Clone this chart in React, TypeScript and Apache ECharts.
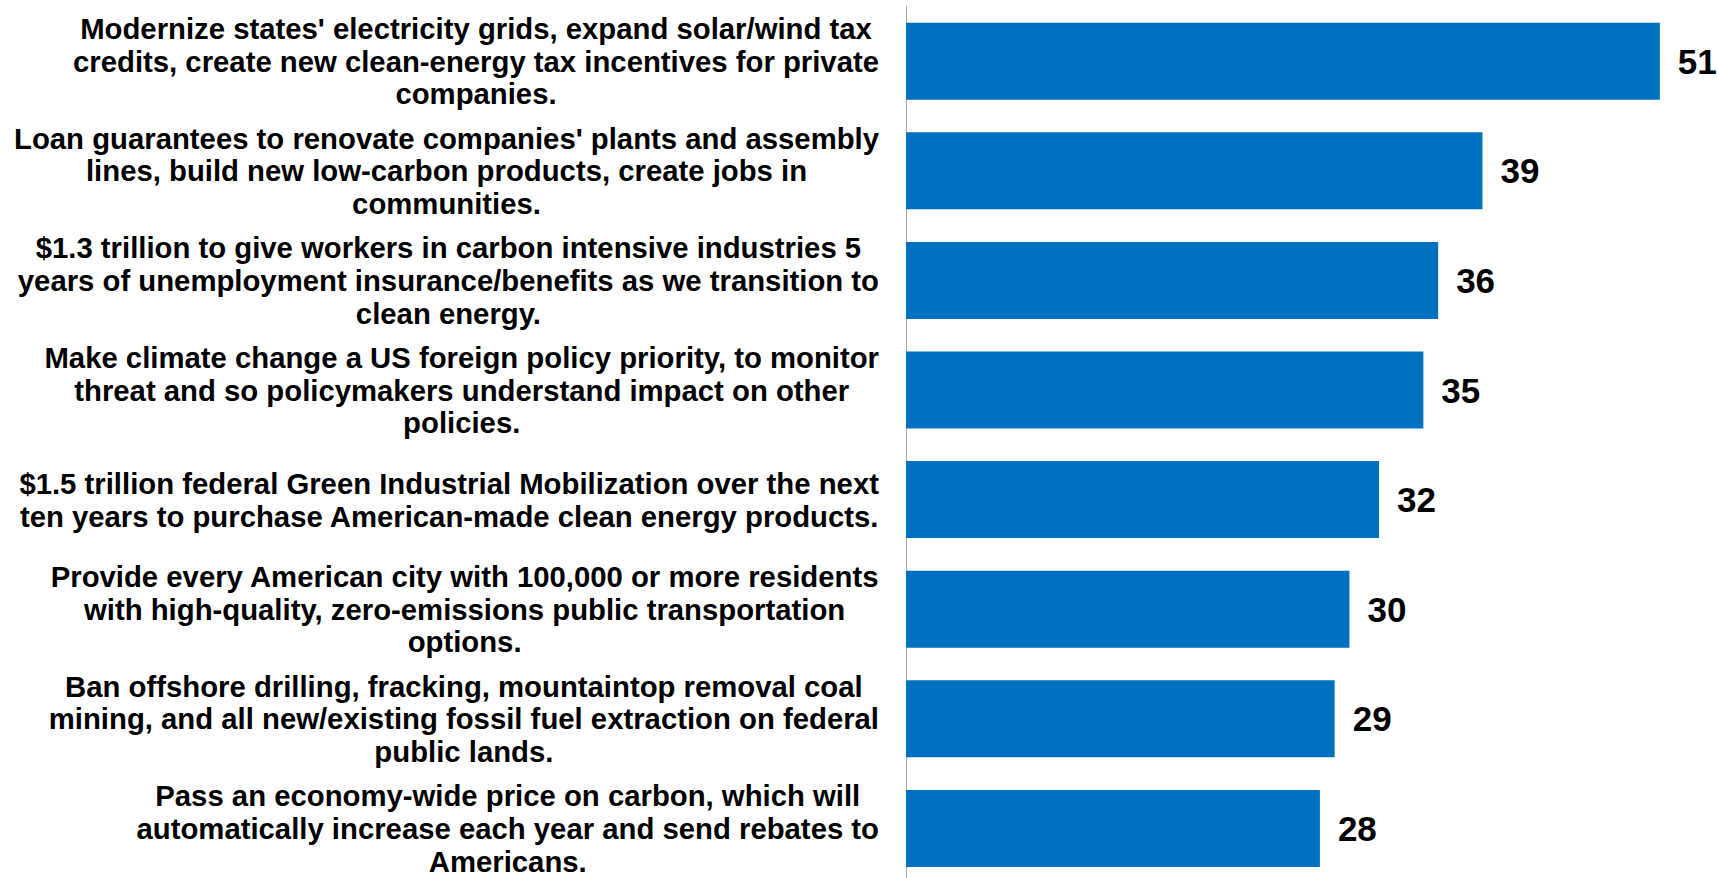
import React, { useEffect, useRef } from "react";
import * as echarts from "echarts";

const categories: string[] = [
  "Modernize states' electricity grids, expand solar/wind tax\ncredits, create new clean-energy tax incentives for private\ncompanies.",
  "Loan guarantees to renovate companies' plants and assembly\nlines, build new low-carbon products, create jobs in\ncommunities.",
  "$1.3 trillion to give workers in carbon intensive industries 5\nyears of unemployment insurance/benefits as we transition to\nclean energy.",
  "Make climate change a US foreign policy priority, to monitor\nthreat and so policymakers understand impact on other\npolicies.",
  "$1.5 trillion federal Green Industrial Mobilization over the next\nten years to purchase American-made clean energy products.",
  "Provide every American city with 100,000 or more residents\nwith high-quality, zero-emissions public transportation\noptions.",
  "Ban offshore drilling, fracking, mountaintop removal coal\nmining, and all new/existing fossil fuel extraction on federal\npublic lands.",
  "Pass an economy-wide price on carbon, which will\nautomatically increase each year and send rebates to\nAmericans.",
];

const values: number[] = [51, 39, 36, 35, 32, 30, 29, 28];

const FONT = "'Liberation Sans', Arial, Helvetica, sans-serif";

export default function App() {
  const ref = useRef<HTMLDivElement>(null);

  useEffect(() => {
    if (!ref.current) return;
    const chart = echarts.init(ref.current, null, { renderer: "svg" });
    chart.setOption({
      animation: false,
      backgroundColor: "#ffffff",
      grid: {
        left: 906,
        width: 813,
        top: 6.4,
        height: 876.8,
        containLabel: false,
        outerBoundsMode: "none",
      },
      xAxis: {
        type: "value",
        min: 0,
        max: 55,
        show: false,
        splitLine: { show: false },
      },
      yAxis: {
        type: "category",
        inverse: true,
        data: categories,
        axisLine: { show: true, lineStyle: { color: "#A6A6A6", width: 1 } },
        axisTick: { show: false },
        splitLine: { show: false },
        axisLabel: {
          interval: 0,
          margin: 27,
          align: "right",
          formatter: (v: string) =>
            v
              .split("\n")
              .map((l) => `{c|${l}}`)
              .join("\n"),
          rich: {
            c: {
              fontFamily: FONT,
              fontSize: 29.3,
              fontWeight: "bold",
              color: "#000000",
              align: "center",
              lineHeight: 32.8,
            },
          },
        },
      },
      series: [
        {
          type: "bar",
          data: values,
          barCategoryGap: "29.7%",
          itemStyle: { color: "#0070C0" },
          label: {
            show: true,
            position: "right",
            distance: 18,
            fontFamily: FONT,
            fontSize: 35,
            fontWeight: "bold",
            color: "#000000",
          },
        },
      ],
    });
    return () => chart.dispose();
  }, []);

  return (
    <div
      ref={ref}
      style={{ position: "fixed", left: 0, top: 0, width: 1718, height: 878 }}
    />
  );
}
